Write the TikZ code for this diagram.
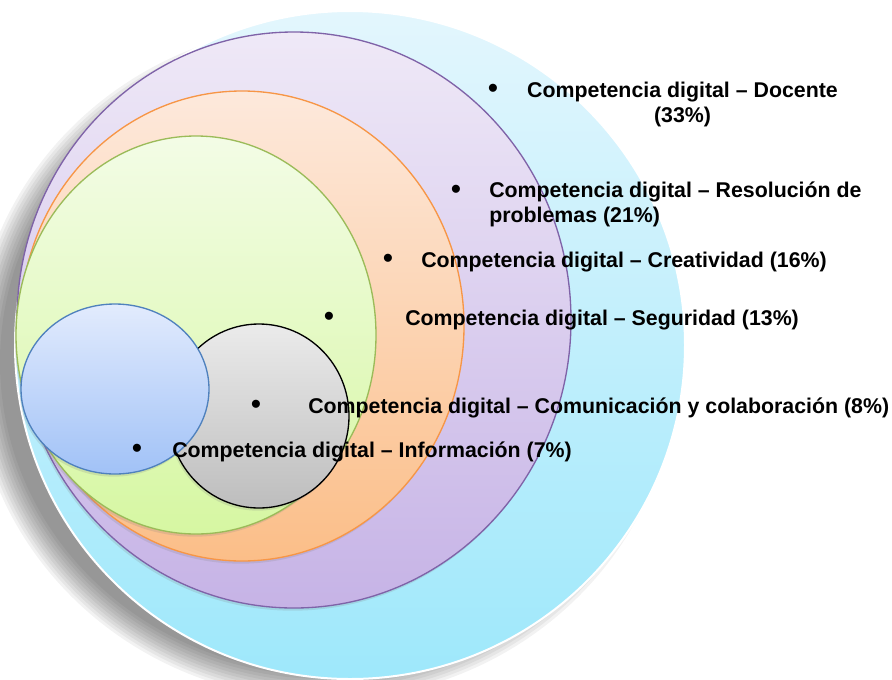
\documentclass[tikz,border=0pt]{standalone}
\usepackage{fontspec}
\setmainfont{Liberation Sans}
\usetikzlibrary{shapes.geometric, shadows}
\definecolor{docenteTop}{HTML}{E3F6FD}
\definecolor{docenteBot}{HTML}{9EE8FB}
\definecolor{resolTop}{HTML}{EFE9F7}
\definecolor{resolBot}{HTML}{C6B3E6}
\definecolor{resolLine}{HTML}{7F63A8}
\definecolor{creatTop}{HTML}{FDE9DC}
\definecolor{creatBot}{HTML}{FBBE88}
\definecolor{creatLine}{HTML}{F79646}
\definecolor{segurTop}{HTML}{F3FCE6}
\definecolor{segurBot}{HTML}{D6F7A2}
\definecolor{segurLine}{HTML}{9BBB59}
\definecolor{comunTop}{HTML}{EBEBEB}
\definecolor{comunBot}{HTML}{BDBDBD}
\definecolor{infoTop}{HTML}{E2EBFD}
\definecolor{infoBot}{HTML}{A1C2F7}
\definecolor{infoLine}{HTML}{4F81BD}

\begin{document}
\begin{tikzpicture}[
    x=0.75pt, y=-0.75pt,
    ring/.style={ellipse, inner sep=0pt, line width=1pt,
        drop shadow={shadow xshift=-1pt, shadow yshift=-2pt, opacity=0.2}},
    dot/.style={anchor=base, font=\fontsize{21}{24}\selectfont\bfseries},
    lbl/.style={anchor=base west, inner xsep=0pt, font=\fontsize{16}{18.75}\selectfont\bfseries}
]
    \useasboundingbox (0,0) rectangle (892,679);

    % soft shadow behind the outer ring
    \foreach \s in {0,...,9} {
        \fill[black, opacity=0.05] (325,362) ellipse ({352-3*\s} and {338-3*\s});
    }

    % rings, outer to inner
    \node[ellipse, inner sep=0pt, draw=white, line width=1.5pt,
        top color=docenteTop, bottom color=docenteBot,
        minimum width=502.5pt, minimum height=501pt] (docente) at (350,345) {};
    \node[ring, draw=resolLine, top color=resolTop, bottom color=resolBot,
        minimum width=415.5pt, minimum height=432pt] (resolucion) at (294,320) {};
    \node[ring, draw=creatLine, top color=creatTop, bottom color=creatBot,
        minimum width=333pt, minimum height=352.5pt] (creatividad) at (242,326) {};
    \node[ring, draw=segurLine, top color=segurTop, bottom color=segurBot,
        minimum width=270pt, minimum height=298.5pt] (seguridad) at (196,335) {};
    \node[ring, draw=black, top color=comunTop, bottom color=comunBot,
        minimum width=135pt, minimum height=138pt] (comunicacion) at (259,416) {};
    \node[ring, draw=infoLine, top color=infoTop, bottom color=infoBot,
        minimum width=141pt, minimum height=127.5pt] (informacion) at (115,389) {};

    % labels
    \node[dot] (b-docente) at (493,97) {•};
    \node[lbl, anchor=base, align=center] (l-docente) at (682.5,122)
        {Competencia digital – Docente\\(33\%)};
    \node[dot] (b-resolucion) at (456,198) {•};
    \node[lbl, align=left] (l-resolucion) at (489,222)
        {Competencia digital – Resolución de\\problemas (21\%)};
    \node[dot] (b-creatividad) at (388,267) {•};
    \node[lbl] (l-creatividad) at (421,267) {Competencia digital – Creatividad (16\%)};
    \node[dot] (b-seguridad) at (329,325) {•};
    \node[lbl] (l-seguridad) at (405,325) {Competencia digital – Seguridad (13\%)};
    \node[dot] (b-comunicacion) at (256,413) {•};
    \node[lbl] (l-comunicacion) at (308,413) {Competencia digital – Comunicación y colaboración (8\%)};
    \node[dot] (b-informacion) at (137,457) {•};
    \node[lbl] (l-informacion) at (172,457) {Competencia digital – Información (7\%)};
\end{tikzpicture}
\end{document}
